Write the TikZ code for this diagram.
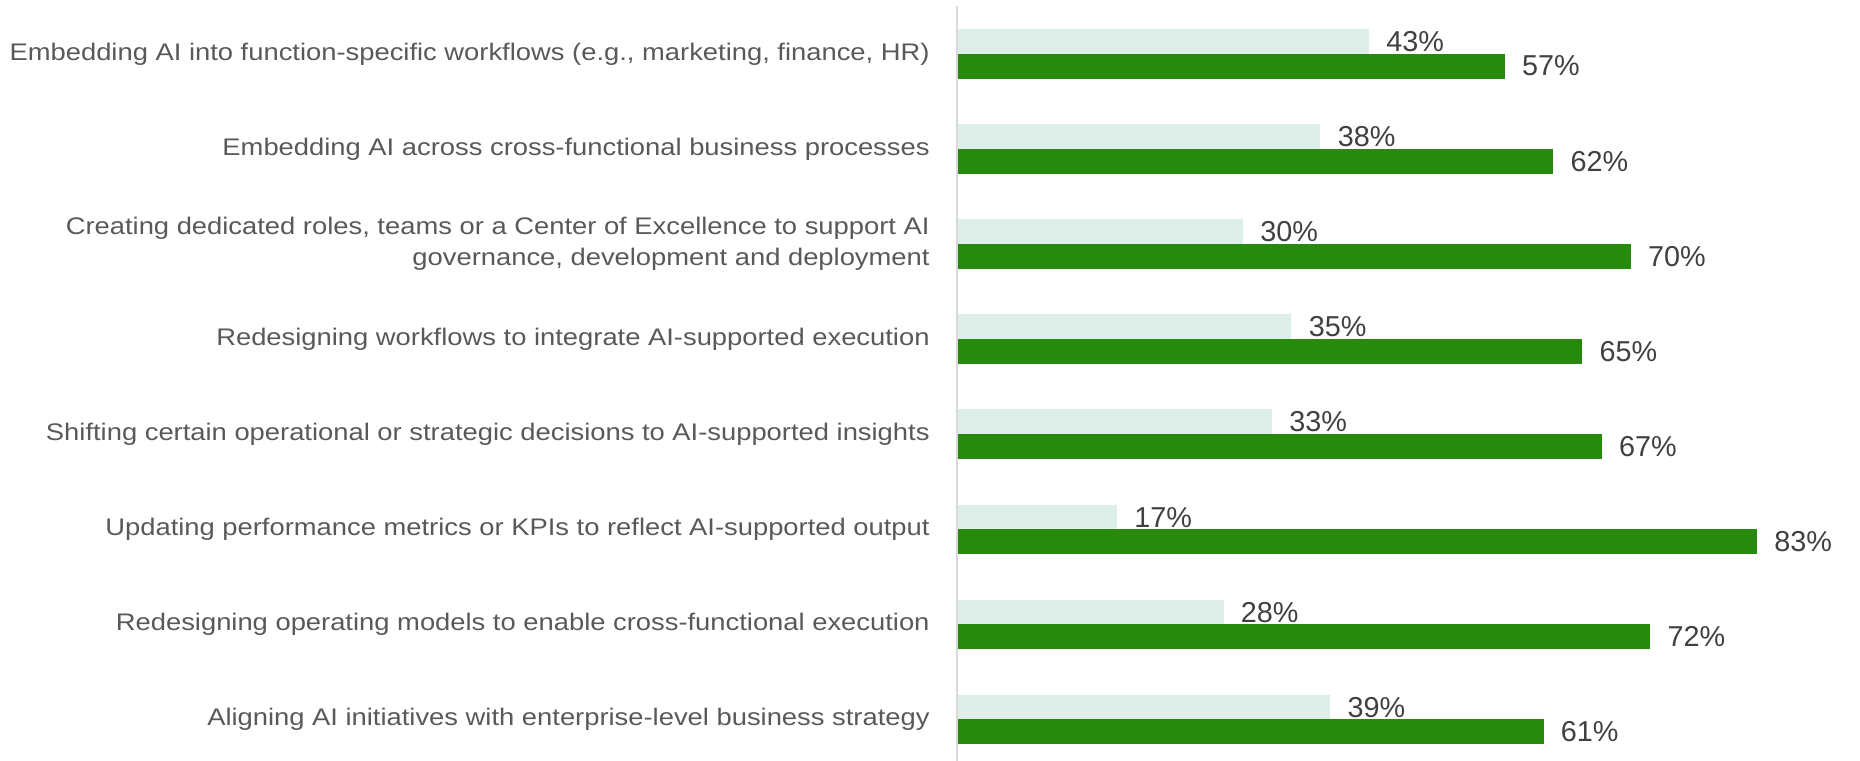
\documentclass[tikz,border=0pt]{standalone}
\usepackage{fontspec}
\setmainfont{Liberation Sans}
\newfontfamily\catfont{Liberation Sans}[FakeStretch=1.14]
\definecolor{lightbarc}{HTML}{DEEEE8}
\definecolor{darkbarc}{HTML}{27890E}
\definecolor{cattext}{HTML}{595959}
\definecolor{valtext}{HTML}{404040}
\definecolor{axisc}{HTML}{D9D9D9}
\begin{document}
\begin{tikzpicture}[x=0.5pt,y=-0.5pt,
  cat/.style={anchor=east,align=right,font=\catfont\fontsize{12pt}{15.5pt}\selectfont,text=cattext,inner sep=0pt},
  val/.style={anchor=west,font=\fontsize{14.4pt}{17pt}\selectfont,text=valtext,inner sep=0pt,text depth=0pt},
  lightbar/.style={fill=lightbarc},
  darkbar/.style={fill=darkbarc},
  axisline/.style={draw=axisc,line width=1pt}]
\useasboundingbox (0,0) rectangle (1860,761);
\coordinate (axtop) at (956.5,6);
\coordinate (axbot) at (956.5,761);
\draw[axisline] (axtop) -- (axbot);
\foreach \i/\a/\b/\t in {
  0/43/57/{Embedding AI into function-specific workflows (e.g., marketing, finance, HR)},
  1/38/62/{Embedding AI across cross-functional business processes},
  2/30/70/{Creating dedicated roles, teams or a Center of Excellence to support AI\\governance, development and deployment},
  3/35/65/{Redesigning workflows to integrate AI-supported execution},
  4/33/67/{Shifting certain operational or strategic decisions to AI-supported insights},
  5/17/83/{Updating performance metrics or KPIs to reflect AI-supported output},
  6/28/72/{Redesigning operating models to enable cross-functional execution},
  7/39/61/{Aligning AI initiatives with enterprise-level business strategy}} {
  \pgfmathsetmacro\y{29+95.1*\i}
  \pgfmathsetmacro\ea{952+9.697*\a}
  \pgfmathsetmacro\eb{952+9.697*\b}
  \fill[lightbar] (957.5,\y) rectangle (\ea,\y+24.5);
  \fill[darkbar] (957.5,\y+24.5) rectangle (\eb,\y+49.5);
  \node[val] (va\i) at (\ea+17,\y+12.5) {\a\%};
  \node[val] (vb\i) at (\eb+17,\y+37) {\b\%};
  \node[cat] (c\i) at (930,\y+25) {\t};
}
\end{tikzpicture}
\end{document}
